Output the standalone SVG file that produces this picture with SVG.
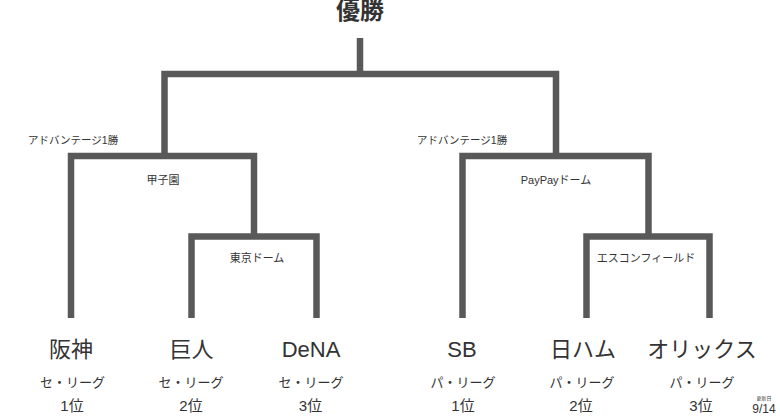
<svg xmlns="http://www.w3.org/2000/svg" width="780" height="420" viewBox="0 0 780 420">
<style>
text{font-family:"Liberation Sans","Noto Sans CJK JP",sans-serif;fill:#333;text-anchor:middle}
.title{font-size:24px;font-weight:bold}
.note{font-size:10.5px;text-anchor:start}
.venue{font-size:11px}
.team{font-size:22px}
.lg{font-size:13px}
.rank{font-size:15px}
.ln{fill:none;stroke:#595959;stroke-width:6.5;stroke-linejoin:miter;stroke-linecap:butt}
</style>
<rect width="780" height="420" fill="#fff"/>
<g id="connectors">
<path class="ln" d="M360 38 V74"/>
<path class="ln" d="M164.5 156 V74 H556 V156"/>
<path class="ln" d="M71 318 V156 H254 V236.5"/>
<path class="ln" d="M191.5 318 V236.5 H316.5 V318"/>
<path class="ln" d="M462.5 318 V156 H648.5 V236.5"/>
<path class="ln" d="M586.5 318 V236.5 H709.5 V318"/>
</g>
<g id="final"><text class="title" x="360" y="19">優勝</text></g>
<g id="labels">
<text class="note" x="28" y="144">アドバンテージ1勝</text>
<text class="note" x="417" y="144">アドバンテージ1勝</text>
<text class="venue" x="163" y="184">甲子園</text>
<text class="venue" x="556" y="184">PayPayドーム</text>
<text class="venue" x="257" y="262">東京ドーム</text>
<text class="venue" x="646" y="262">エスコンフィールド</text>
</g>
<g id="hanshin"><text class="team" x="71" y="357">阪神</text><text class="lg" x="72.5" y="387">セ・リーグ</text><text class="rank" x="72" y="411">1位</text></g>
<g id="kyojin"><text class="team" x="191.5" y="357">巨人</text><text class="lg" x="191" y="387">セ・リーグ</text><text class="rank" x="191" y="411">2位</text></g>
<g id="dena"><text class="team" x="311" y="357">DeNA</text><text class="lg" x="311" y="387">セ・リーグ</text><text class="rank" x="310.5" y="411">3位</text></g>
<g id="sb"><text class="team" x="462" y="357">SB</text><text class="lg" x="463" y="387">パ・リーグ</text><text class="rank" x="463" y="411">1位</text></g>
<g id="nippon-ham"><text class="team" x="583" y="357">日ハム</text><text class="lg" x="582" y="387">パ・リーグ</text><text class="rank" x="581" y="411">2位</text></g>
<g id="orix"><text class="team" x="702" y="357">オリックス</text><text class="lg" x="702" y="387">パ・リーグ</text><text class="rank" x="701" y="411">3位</text></g>
<g id="updated"><text x="764" y="400" style="font-size:5px">更新日</text><text x="764" y="413" style="font-size:12px">9/14</text></g>
</svg>
